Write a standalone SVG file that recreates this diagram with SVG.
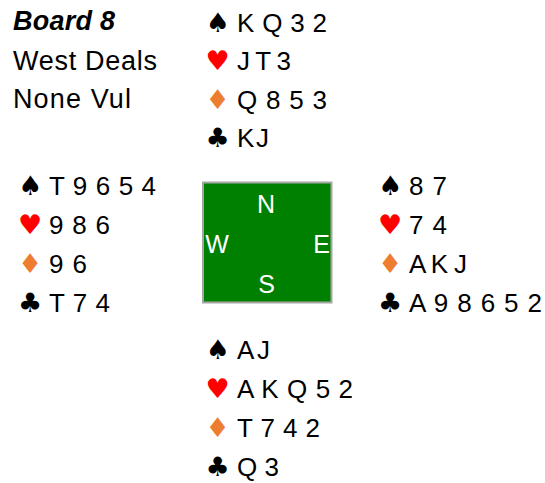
<svg xmlns="http://www.w3.org/2000/svg" width="545" height="483" viewBox="0 0 545 483">
<style>
.t{font-family:"Liberation Sans",Arial,sans-serif;font-size:26px;fill:#000}
.h{font-family:"Liberation Sans",Arial,sans-serif;font-size:27px;fill:#000}
.s{font-family:"DejaVu Sans",sans-serif;font-size:27px;text-anchor:middle}
.k{fill:#000}
.r{fill:#FF0000}
.o{fill:#ED7D31}
.d{font-family:"Liberation Sans",Arial,sans-serif;font-size:25px;fill:#fff}
</style>
<rect width="545" height="483" fill="#fff"/>
<g id="info">
<text class="h" x="13" y="30" font-weight="bold" font-style="italic" textLength="102">Board 8</text>
<text class="h" x="13" y="70" textLength="144">West Deals</text>
<text class="h" x="13" y="108" textLength="118">None Vul</text>
</g>
<g id="north">
<text class="s k" x="217.5" y="32">♠</text>
<text class="t" x="237" y="32" textLength="90" lengthAdjust="spacing">K Q 3 2</text>
<text class="s r" x="217.5" y="70">♥</text>
<text class="t" x="237" y="70" textLength="54" lengthAdjust="spacing">J T 3</text>
<text class="s o" x="217.5" y="109">♦</text>
<text class="t" x="237" y="109" textLength="90" lengthAdjust="spacing">Q 8 5 3</text>
<text class="s k" x="217.5" y="147">♣</text>
<text class="t" x="237" y="147" textLength="32" lengthAdjust="spacing">K J</text>
</g>
<g id="west">
<text class="s k" x="30" y="195">♠</text>
<text class="t" x="49" y="195" textLength="107" lengthAdjust="spacing">T 9 6 5 4</text>
<text class="s r" x="30" y="234">♥</text>
<text class="t" x="49" y="234" textLength="61" lengthAdjust="spacing">9 8 6</text>
<text class="s o" x="30" y="273">♦</text>
<text class="t" x="49" y="273" textLength="38" lengthAdjust="spacing">9 6</text>
<text class="s k" x="30" y="312">♣</text>
<text class="t" x="49" y="312" textLength="61" lengthAdjust="spacing">T 7 4</text>
</g>
<g id="east">
<text class="s k" x="390" y="195">♠</text>
<text class="t" x="409" y="195" textLength="38" lengthAdjust="spacing">8 7</text>
<text class="s r" x="390" y="234">♥</text>
<text class="t" x="409" y="234" textLength="38" lengthAdjust="spacing">7 4</text>
<text class="s o" x="390" y="273">♦</text>
<text class="t" x="409" y="273" textLength="58" lengthAdjust="spacing">A K J</text>
<text class="s k" x="390" y="312">♣</text>
<text class="t" x="409" y="312" textLength="133" lengthAdjust="spacing">A 9 8 6 5 2</text>
</g>
<g id="south">
<text class="s k" x="217.5" y="359">♠</text>
<text class="t" x="237" y="359" textLength="33" lengthAdjust="spacing">A J</text>
<text class="s r" x="217.5" y="398">♥</text>
<text class="t" x="237" y="398" textLength="116" lengthAdjust="spacing">A K Q 5 2</text>
<text class="s o" x="217.5" y="437">♦</text>
<text class="t" x="237" y="437" textLength="83" lengthAdjust="spacing">T 7 4 2</text>
<text class="s k" x="217.5" y="476">♣</text>
<text class="t" x="237" y="476" textLength="42" lengthAdjust="spacing">Q 3</text>
</g>
<g id="table">
<rect x="203" y="182.5" width="128.5" height="120" fill="#008000" stroke="#A6A6A6" stroke-width="2"/>
<text class="d" x="266" y="213" text-anchor="middle">N</text>
<text class="d" x="217" y="253" text-anchor="middle">W</text>
<text class="d" x="321.5" y="253" text-anchor="middle">E</text>
<text class="d" x="266.5" y="293" text-anchor="middle">S</text>
</g>
</svg>
